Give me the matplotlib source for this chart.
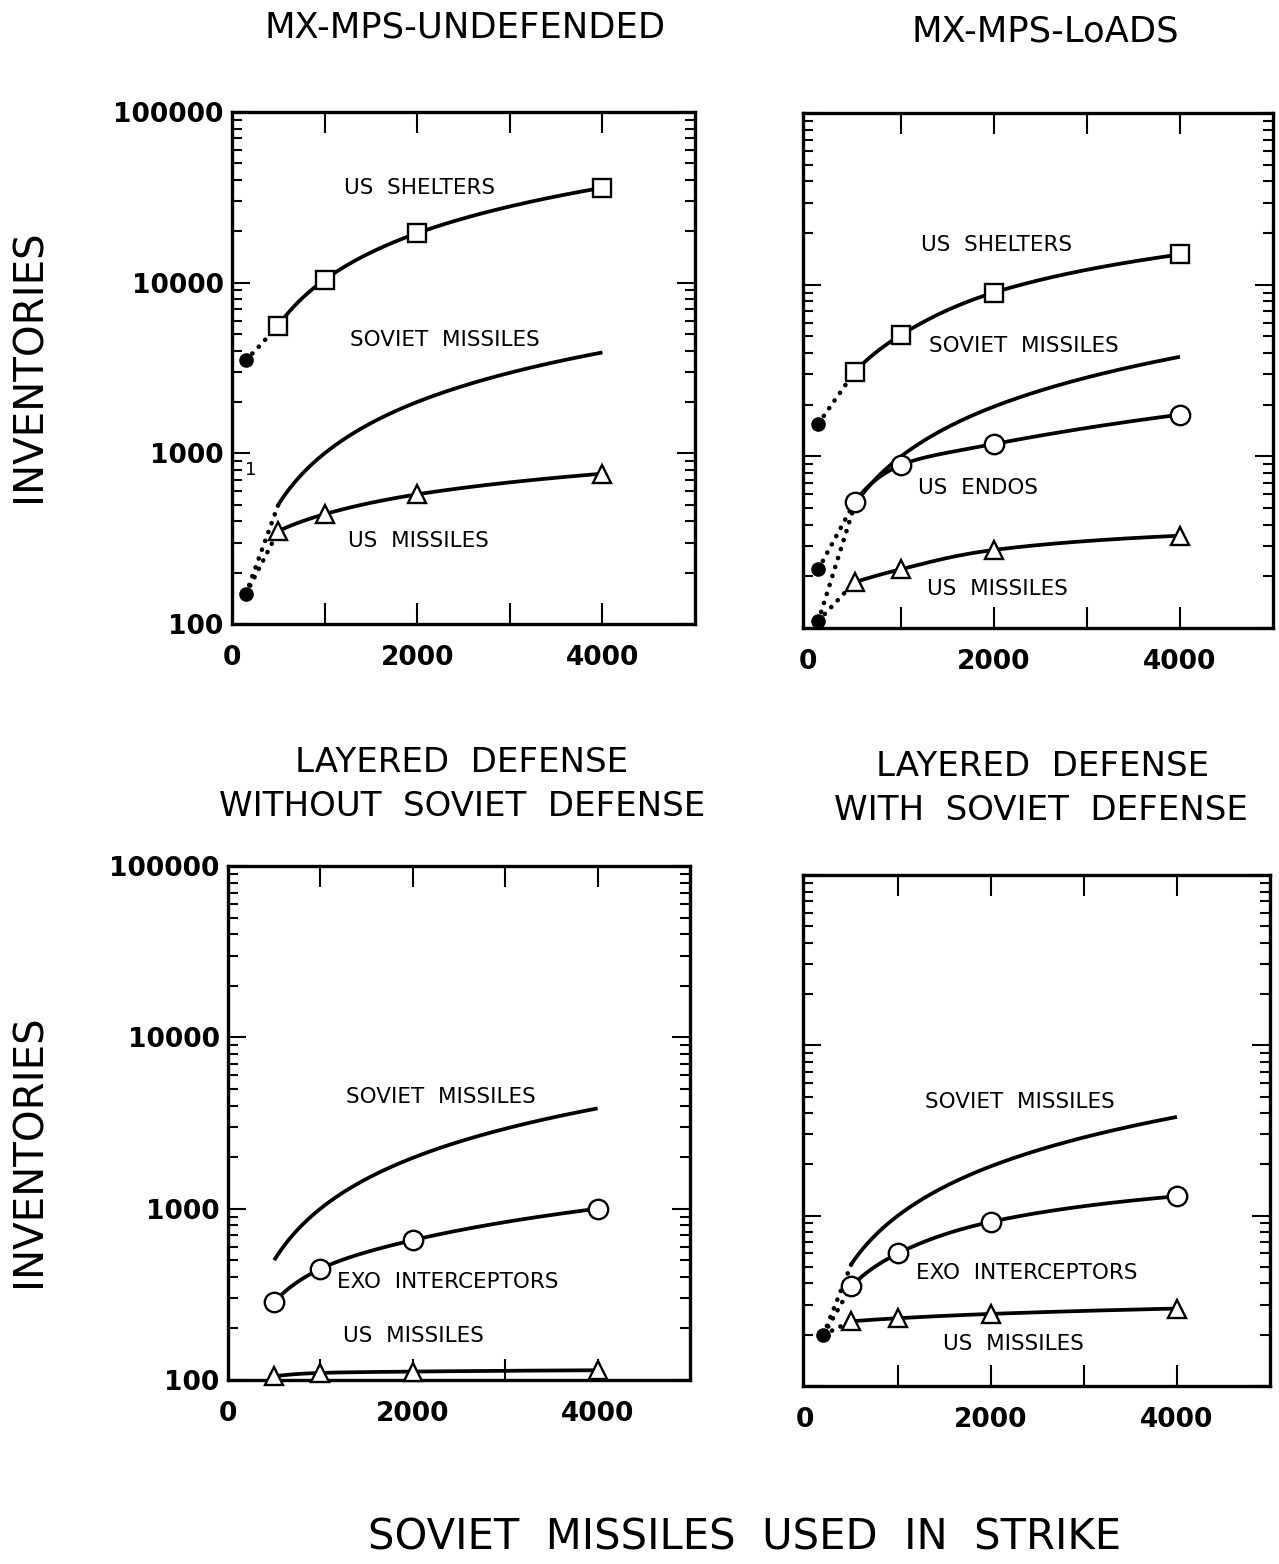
import numpy as np
import matplotlib
matplotlib.use("Agg")
import matplotlib.pyplot as plt
from matplotlib.ticker import LogLocator, NullLocator, FixedLocator, FixedFormatter, NullFormatter

# ---------------- data ----------------
strike_x = [500, 1000, 2000, 4000]

# MX-MPS-UNDEFENDED
tl_start_x = 150
tl_start_shelters = 3500
tl_start_missiles = 150
tl_shelters = [5600, 10400, 19500, 36000]
tl_us_missiles = [350, 440, 575, 760]
tl_soviet = [500, 1000, 2000, 3900]

# MX-MPS-LoADS
tr_start_x = 110
tr_start_shelters = 1550
tr_start_endos = 220
tr_start_missiles = 110
tr_shelters = [3100, 5100, 9000, 15000]
tr_endos = [540, 890, 1180, 1750]
tr_us_missiles = [185, 220, 285, 345]
tr_soviet = [520, 1000, 1950, 3800]

# Layered defense without Soviet defense
bl_exo = [285, 445, 655, 1000]
bl_us_missiles = [105, 110, 112, 114]
bl_soviet = [500, 1000, 1980, 3850]

# Layered defense with Soviet defense
br_start_x = 200
br_start_value = 200
br_exo = [385, 600, 920, 1300]
br_us_missiles = [240, 250, 265, 285]
br_soviet = [520, 1000, 1950, 3800]

y_ticks = [100, 1000, 10000, 100000]
y_ticklabels = ["100", "1000", "10000", "100000"]
x_ticks = [0, 1000, 2000, 3000, 4000]
x_ticklabels = ["0", "", "2000", "", "4000"]

# ---------------- helpers ----------------
W, H = 1279, 1564
fig = plt.figure(figsize=(W / 100, H / 100), dpi=100)
fig.patch.set_facecolor("white")
FONT = "DejaVu Sans"


def add_ax(l, t, r, b):
    return fig.add_axes([l / W, 1 - b / H, (r - l) / W, (b - t) / H])


def hermite(x, y, xx):
    """Smooth monotone curve through the data points (drawing only)."""
    x = np.asarray(x, float)
    y = np.asarray(y, float)
    h = np.diff(x)
    d = np.diff(y) / h
    n = len(x)
    m = np.zeros(n)
    for k in range(1, n - 1):
        if d[k - 1] * d[k] <= 0:
            m[k] = 0.0
        else:
            w1 = 2 * h[k] + h[k - 1]
            w2 = h[k] + 2 * h[k - 1]
            m[k] = (w1 + w2) / (w1 / d[k - 1] + w2 / d[k])
    m0 = ((2 * h[0] + h[1]) * d[0] - h[0] * d[1]) / (h[0] + h[1])
    if np.sign(m0) != np.sign(d[0]):
        m0 = 0.0
    m[0] = m0
    mn = ((2 * h[-1] + h[-2]) * d[-1] - h[-1] * d[-2]) / (h[-1] + h[-2])
    if np.sign(mn) != np.sign(d[-1]):
        mn = 0.0
    m[-1] = mn
    i = np.clip(np.searchsorted(x, xx) - 1, 0, n - 2)
    t = (xx - x[i]) / h[i]
    h00 = 2 * t**3 - 3 * t**2 + 1
    h10 = t**3 - 2 * t**2 + t
    h01 = -2 * t**3 + 3 * t**2
    h11 = t**3 - t**2
    return h00 * y[i] + h10 * h[i] * m[i] + h01 * y[i + 1] + h11 * h[i] * m[i + 1]


def smooth_line(ax, xs, ys):
    lx = np.log10(xs)
    lxx = np.linspace(lx[0], lx[-1], 300)
    yy = 10 ** hermite(lx, np.log10(ys), lxx)
    ax.plot(10 ** lxx, yy, color="black", lw=2.7, solid_capstyle="butt", zorder=3)


def markers(ax, xs, ys, m, ms):
    ax.plot(xs, ys, linestyle="none", marker=m, ms=ms, mfc="white",
            mec="black", mew=1.7, zorder=5, clip_on=False)


def dotted(ax, x0, y0, x1, y1):
    ax.plot([x0, x1], [y0, y1], color="black", lw=3.3,
            linestyle=(0, (0.05, 2.0)), dash_capstyle="round", zorder=2)


def start_dot(ax, x0, y0):
    ax.plot([x0], [y0], "o", color="black", ms=9.5, zorder=6, clip_on=False)


def setup(ax, xlim, show_y):
    ax.set_yscale("log")
    ax.set_ylim(100, 100000)
    ax.set_xlim(*xlim)
    ax.xaxis.set_major_locator(FixedLocator(x_ticks))
    ax.xaxis.set_major_formatter(FixedFormatter(x_ticklabels))
    ax.xaxis.set_minor_locator(NullLocator())
    ax.yaxis.set_major_locator(FixedLocator(y_ticks))
    ax.yaxis.set_minor_locator(LogLocator(base=10, subs=np.arange(2, 10)))
    ax.yaxis.set_minor_formatter(NullFormatter())
    if show_y:
        ax.yaxis.set_major_formatter(FixedFormatter(y_ticklabels))
    else:
        ax.yaxis.set_major_formatter(NullFormatter())
    ax.tick_params(which="both", direction="in", top=True, right=True,
                   width=1.5, color="black")
    ax.tick_params(axis="x", which="major", length=15, pad=15)
    ax.tick_params(axis="y", which="major", length=13, pad=6)
    ax.tick_params(axis="y", which="minor", length=7)
    for lab in ax.get_xticklabels() + ax.get_yticklabels():
        lab.set_fontsize(19)
        lab.set_fontweight("bold")
        lab.set_fontfamily(FONT)
    for s in ax.spines.values():
        s.set_linewidth(2.4)
    # hide the tick mark at x = 0 (keep its label)
    t0 = ax.xaxis.get_major_ticks()[0]
    t0.tick1line.set_visible(False)
    t0.tick2line.set_visible(False)


def ftext(x, y, s, size=15.5, **kw):
    fig.text(x / W, 1 - y / H, s, ha="center", va="center", fontsize=size,
             family=FONT, color="black", **kw)


# ---------------- top left ----------------
ax = add_ax(232, 112, 695, 624)
setup(ax, (0, 5000), True)
smooth_line(ax, strike_x, tl_shelters)
smooth_line(ax, strike_x, tl_soviet)
smooth_line(ax, strike_x, tl_us_missiles)
dotted(ax, tl_start_x, tl_start_shelters, strike_x[0], tl_shelters[0])
dotted(ax, tl_start_x, tl_start_missiles, strike_x[0], tl_us_missiles[0])
dotted(ax, tl_start_x, tl_start_missiles, strike_x[0], tl_soviet[0])
markers(ax, strike_x, tl_shelters, "s", 13)
markers(ax, strike_x, tl_us_missiles, "^", 13)
start_dot(ax, tl_start_x, tl_start_shelters)
start_dot(ax, tl_start_x, tl_start_missiles)

# ---------------- top right ----------------
ax = add_ax(803, 113, 1273, 628)
setup(ax, (-55, 5000), False)
smooth_line(ax, strike_x, tr_shelters)
smooth_line(ax, strike_x, tr_soviet)
smooth_line(ax, strike_x, tr_endos)
smooth_line(ax, strike_x, tr_us_missiles)
dotted(ax, tr_start_x, tr_start_shelters, strike_x[0], tr_shelters[0])
dotted(ax, tr_start_x, tr_start_endos, strike_x[0], tr_endos[0])
dotted(ax, tr_start_x, tr_start_missiles, strike_x[0], tr_soviet[0])
dotted(ax, tr_start_x, tr_start_missiles, strike_x[0], tr_us_missiles[0])
markers(ax, strike_x, tr_shelters, "s", 13)
markers(ax, strike_x, tr_endos, "o", 14)
markers(ax, strike_x, tr_us_missiles, "^", 12.5)
start_dot(ax, tr_start_x, tr_start_shelters)
start_dot(ax, tr_start_x, tr_start_endos)
start_dot(ax, tr_start_x, tr_start_missiles)

# ---------------- bottom left ----------------
ax = add_ax(228, 866, 690, 1380)
setup(ax, (0, 5000), True)
smooth_line(ax, strike_x, bl_soviet)
smooth_line(ax, strike_x, bl_exo)
smooth_line(ax, strike_x, bl_us_missiles)
markers(ax, strike_x, bl_exo, "o", 14)
markers(ax, strike_x, bl_us_missiles, "^", 12.5)

# ---------------- bottom right ----------------
ax = add_ax(803, 875, 1270, 1386)
setup(ax, (-20, 5000), False)
smooth_line(ax, strike_x, br_soviet)
smooth_line(ax, strike_x, br_exo)
smooth_line(ax, strike_x, br_us_missiles)
dotted(ax, br_start_x, br_start_value, strike_x[0], br_soviet[0])
dotted(ax, br_start_x, br_start_value, strike_x[0], br_exo[0])
dotted(ax, br_start_x, br_start_value, strike_x[0], br_us_missiles[0])
markers(ax, strike_x, br_exo, "o", 14)
markers(ax, strike_x, br_us_missiles, "^", 12.5)
start_dot(ax, br_start_x, br_start_value)

# ---------------- curve labels ----------------
ftext(420, 188, "US  SHELTERS")
ftext(445, 340, "SOVIET  MISSILES")
ftext(418, 541, "US  MISSILES")
ftext(251, 470, "1", size=13)

ftext(997, 245, "US  SHELTERS")
ftext(1024, 346, "SOVIET  MISSILES")
ftext(978, 488, "US  ENDOS")
ftext(997, 589, "US  MISSILES")

ftext(441, 1097, "SOVIET  MISSILES")
ftext(448, 1282, "EXO  INTERCEPTORS")
ftext(413, 1336, "US  MISSILES")

ftext(1020, 1102, "SOVIET  MISSILES")
ftext(1027, 1273, "EXO  INTERCEPTORS")
ftext(1013, 1344, "US  MISSILES")

# ---------------- titles ----------------
ftext(465, 28, "MX-MPS-UNDEFENDED", size=25.5)
ftext(1045, 31, "MX-MPS-LoADS", size=25.5)
ftext(462, 762, "LAYERED  DEFENSE", size=24.5)
ftext(462, 806, "WITHOUT  SOVIET  DEFENSE", size=24.5)
ftext(1043, 767, "LAYERED  DEFENSE", size=24.5)
ftext(1041, 811, "WITH  SOVIET  DEFENSE", size=24.5)
ftext(30, 366, "INVENTORIES", size=29, rotation=90)
ftext(30, 1151, "INVENTORIES", size=29, rotation=90)
ftext(745, 1538, "SOVIET  MISSILES  USED  IN  STRIKE", size=30)

fig.savefig("out.png", dpi=100, facecolor="white")
